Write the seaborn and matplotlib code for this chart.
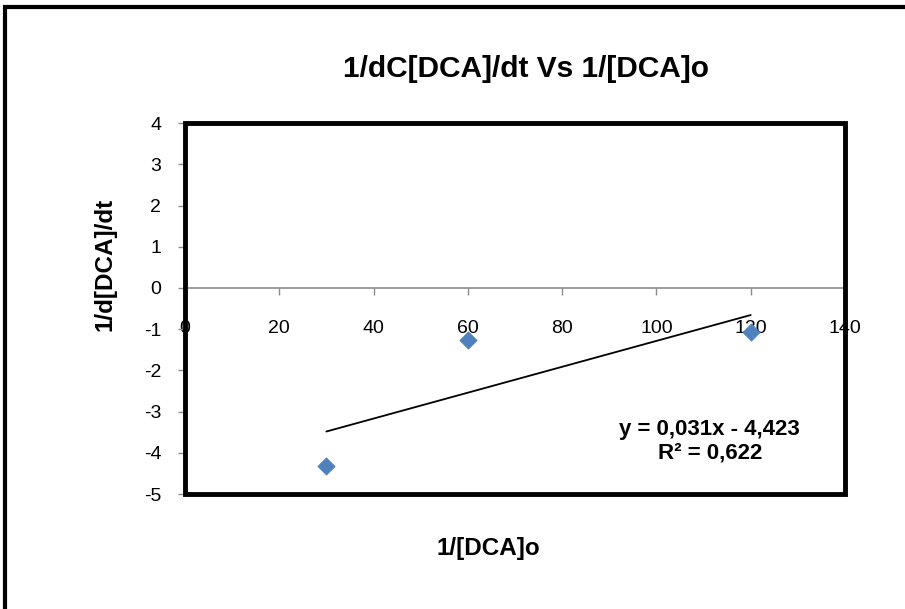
import numpy as np
import pandas as pd
import seaborn as sns
import matplotlib.pyplot as plt
from matplotlib.patches import Rectangle

# datos
inv_dca0 = [30, 60, 120]
inv_rate = [-4.33, -1.27, -1.08]
x_ticks = [0, 20, 40, 60, 80, 100, 120, 140]
y_ticks = [-5, -4, -3, -2, -1, 0, 1, 2, 3, 4]

df = pd.DataFrame({'x': inv_dca0, 'y': inv_rate})

sns.set_style('white')
plt.rcParams['font.family'] = ['Liberation Sans', 'DejaVu Sans']
plt.rcParams['axes.unicode_minus'] = False
plt.rcParams['text.color'] = 'black'

fig = plt.figure(figsize=(9.05, 6.09), dpi=100)
ax = fig.add_axes([0.2044, 0.1888, 0.7293, 0.609])

# borde exterior del grafico
fig.patches.append(Rectangle((0.006, -0.05), 1.1, 1.038, transform=fig.transFigure,
                             fill=False, edgecolor='black', linewidth=3))

# linea de tendencia y puntos
sns.regplot(data=df, x='x', y='y', scatter=False, ci=None, ax=ax,
            line_kws={'color': 'black', 'linewidth': 1.3})
sns.scatterplot(data=df, x='x', y='y', marker='D', s=75, color='#4F81BD',
                edgecolor='#4F81BD', ax=ax, zorder=5)

ax.set_xlim(0, 140)
ax.set_ylim(-5, 4)
ax.set_xticks(x_ticks)
ax.set_yticks(y_ticks)

for s in ['top', 'right']:
    ax.spines[s].set_visible(False)
ax.spines['bottom'].set_position(('data', 0))
ax.spines['bottom'].set_color('#8c8c8c')
ax.spines['left'].set_color('#8c8c8c')
ax.spines['bottom'].set_linewidth(1.2)
ax.spines['left'].set_linewidth(1.2)

ax.tick_params(axis='x', direction='out', length=5, width=1, color='#8c8c8c',
               labelsize=14, pad=18, labelcolor='black')
ax.tick_params(axis='y', direction='out', length=5, width=1, color='#8c8c8c',
               labelsize=14, pad=12, labelcolor='black')
ax.xaxis.set_ticks_position('bottom')
ax.yaxis.set_ticks_position('left')

# marco negro del area de trazado
ax.add_patch(Rectangle((0, 0), 1, 1, transform=ax.transAxes, fill=False,
                       edgecolor='black', linewidth=3.5, clip_on=False, zorder=6))

ax.set_xlabel('')
ax.set_ylabel('')
fig.text(0.581, 0.886, '1/dC[DCA]/dt Vs 1/[DCA]o', ha='center', va='center',
         fontsize=21.5, fontweight='bold')
fig.text(0.540, 0.099, '1/[DCA]o', ha='center', va='center',
         fontsize=17.5, fontweight='bold')
fig.text(0.116, 0.565, '1/d[DCA]/dt', ha='center', va='center', rotation=90,
         fontsize=17.5, fontweight='bold')

ax.text(0.795, 0.143, 'y = 0,031x - 4,423\nR² = 0,622', transform=ax.transAxes,
        ha='center', va='center', fontsize=16, fontweight='bold', linespacing=1.15)

fig.savefig('out.png', dpi=100)
